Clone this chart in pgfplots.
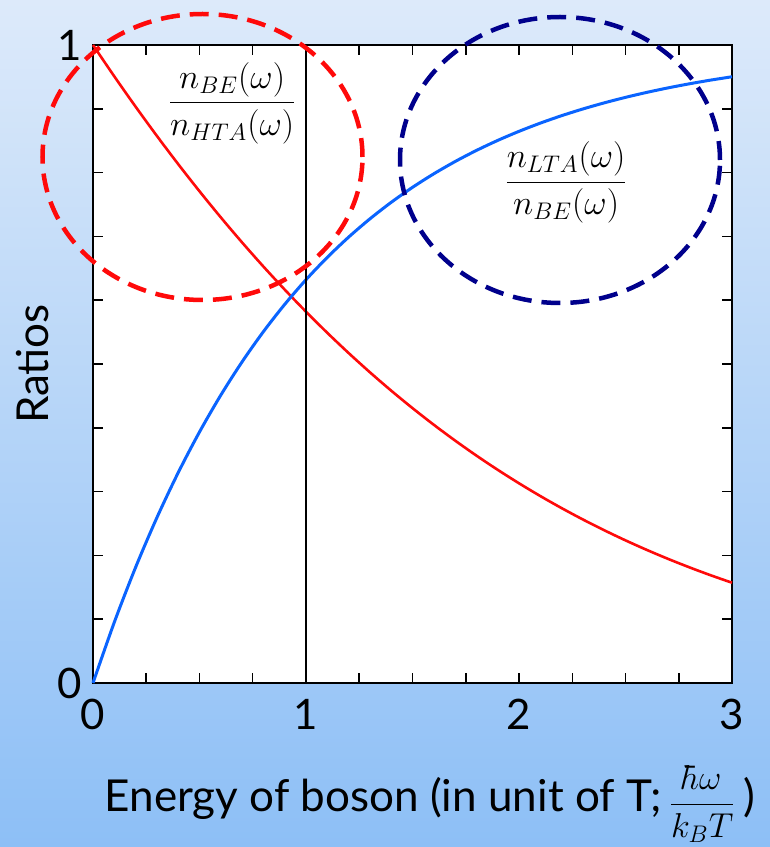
\documentclass[border=0pt]{standalone}
\usepackage{graphicx}
\usepackage{pgfplots}
\pgfplotsset{compat=1.18}
\usepackage{fontspec}
\setmainfont{Lato}
\definecolor{bgtop}{RGB}{221,234,250}
\definecolor{bgbot}{RGB}{141,191,246}
\definecolor{redc}{RGB}{255,10,10}
\definecolor{bluec}{RGB}{10,100,255}
\definecolor{navyc}{RGB}{0,0,140}
\newcommand{\bigfrac}[2]{\scalebox{2}{\fontsize{17.28}{20}\selectfont$\displaystyle\frac{#1}{#2}$}}
\begin{document}
\begin{tikzpicture}
\shade[top color=bgtop, bottom color=bgbot] (-93pt,-164pt) rectangle (677pt,683pt);
\begin{axis}[
  at={(0pt,0pt)}, anchor=south west,
  scale only axis, width=639pt, height=638pt,
  xmin=0, xmax=3, ymin=0, ymax=1,
  axis background/.style={fill=white},
  axis line style={line width=2.2pt, black},
  clip=false,
  xtick={0,1,2,3}, minor xtick={0.25,0.5,0.75,1.25,1.5,1.75,2.25,2.5,2.75},
  ytick={0,1}, minor ytick={0.1,0.2,0.3,0.4,0.5,0.6,0.7,0.8,0.9},
  tick align=inside,
  major tick length=10pt, minor tick length=10pt,
  every tick/.style={black, line width=1.5pt},
  tick label style={font=\fontsize{42}{42}\selectfont},
  /pgf/number format/assume math mode=true,
  xticklabel style={yshift=-13pt},
  yticklabel style={xshift=-8pt},
  xlabel={Energy of boson (in unit of T;\,\raisebox{-0.04em}{\bigfrac{\hbar\omega}{k_BT}}\,)},
  xlabel style={at={(axis description cs:0.527,-0.2015)}, anchor=base, font=\fontsize{44}{44}\selectfont},
  ylabel={Ratios},
  ylabel style={at={(axis description cs:-0.094,0.5)}, anchor=center, font=\fontsize{44}{44}\selectfont},
]
\addplot[redc, line width=2.6pt, smooth] coordinates {
(0.0,1.00000)(0.1,0.95083)(0.2,0.90333)(0.3,0.85749)(0.4,0.81329)(0.5,0.77075)
(0.6,0.72982)(0.7,0.69050)(0.8,0.65277)(0.9,0.61661)(1.0,0.58198)(1.1,0.54886)
(1.2,0.51722)(1.3,0.48702)(1.4,0.45823)(1.5,0.43083)(1.6,0.40475)(1.7,0.37998)
(1.8,0.35646)(1.9,0.33416)(2.0,0.31304)(2.1,0.29304)(2.2,0.27414)(2.3,0.25629)
(2.4,0.23945)(2.5,0.22356)(2.6,0.20861)(2.7,0.19453)(2.8,0.18130)(2.9,0.16886)
(3.0,0.15719)};
\addplot[bluec, line width=3pt, smooth] coordinates {
(0.0,0.00000)(0.1,0.09516)(0.2,0.18127)(0.3,0.25918)(0.4,0.32968)(0.5,0.39347)
(0.6,0.45119)(0.7,0.50342)(0.8,0.55067)(0.9,0.59343)(1.0,0.63212)(1.1,0.66713)
(1.2,0.69881)(1.3,0.72747)(1.4,0.75340)(1.5,0.77687)(1.6,0.79810)(1.7,0.81732)
(1.8,0.83470)(1.9,0.85043)(2.0,0.86466)(2.1,0.87754)(2.2,0.88920)(2.3,0.89974)
(2.4,0.90928)(2.5,0.91792)(2.6,0.92573)(2.7,0.93279)(2.8,0.93919)(2.9,0.94498)
(3.0,0.95021)};
\addplot[black, line width=1.2pt] coordinates {(1,0)(1,1)};
\node at (axis cs:0.653,0.909) {\bigfrac{n_{BE}(\omega)}{n_{HTA}(\omega)}};
\node at (axis cs:2.221,0.785) {\bigfrac{n_{LTA}(\omega)}{n_{BE}(\omega)}};
\end{axis}
\draw[redc, line width=4.5pt, dash pattern=on 19pt off 10pt] (109.5pt,526pt) ellipse [x radius=160pt, y radius=143pt];
\draw[navyc, line width=4.5pt, dash pattern=on 19pt off 10pt] (467pt,523pt) ellipse [x radius=160pt, y radius=143pt];
\pgfresetboundingbox
\path (-93pt,-164pt) rectangle (677pt,683pt);
\end{tikzpicture}
\end{document}
